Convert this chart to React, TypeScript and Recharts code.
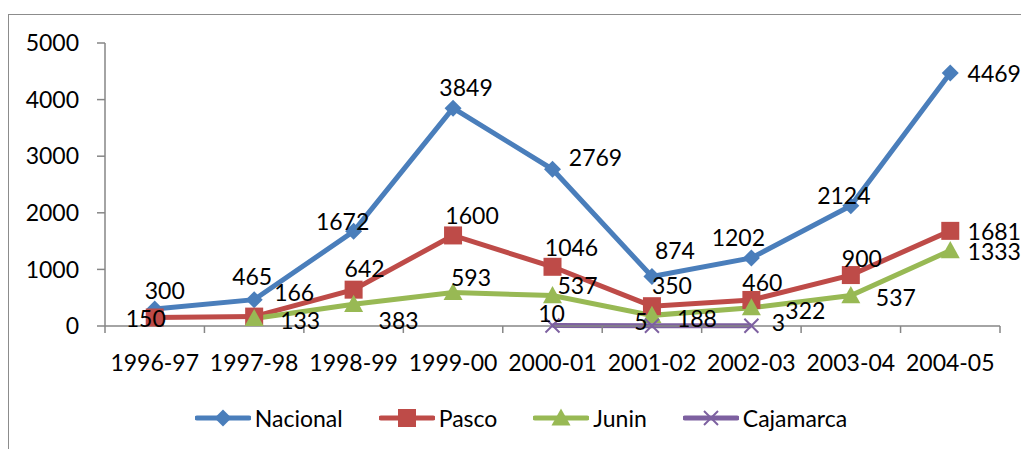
import React from 'react';
import { LineChart, Line, XAxis, YAxis, Legend } from 'recharts';

const categories = ['1996-97', '1997-98', '1998-99', '1999-00', '2000-01', '2001-02', '2002-03', '2003-04', '2004-05'];
const nacional = [300, 465, 1672, 3849, 2769, 874, 1202, 2124, 4469];
const pasco = [150, 166, 642, 1600, 1046, 350, 460, 900, 1681];
const junin = [null, 133, 383, 593, 537, 188, 322, 537, 1333];
const cajamarca = [null, null, null, null, 10, 5, 3, null, null];
const yTicks = [0, 1000, 2000, 3000, 4000, 5000];

// label offsets (dx, dy) for each point, as placed in the original
const nacionalLabelPos = [[10, -19], [-2, -24], [-11, -10], [13, -21], [43, -12], [23, -27], [-13, -21], [-7, -11], [44, 0]];
const pascoLabelPos = [[-9, 0], [40, -25], [11, -22], [19, -20], [19, -20], [20, -21], [11, -18], [11, -17], [44, 0]];
const juninLabelPos = [[0, 0], [46, 2], [45, 16], [18, -15], [25, -11], [45, 3], [54, 2], [45, 1], [44, 0]];
const cajamarcaLabelPos = [[0, 0], [0, 0], [0, 0], [0, 0], [-1, -12], [-11, -5], [27, -4], [0, 0], [0, 0]];

const data = categories.map((name, i) => ({
  name,
  Nacional: nacional[i],
  Pasco: pasco[i],
  Junin: junin[i],
  Cajamarca: cajamarca[i],
}));

const FONT = 'Lato, "Open Sans", sans-serif';
const AXIS = '#868686';
const CHART_W = 1018;
const CHART_H = 438;
const MARGIN = { top: 28, right: 27, left: 0, bottom: 20 };
const Y_W = 96;
const BAND = (CHART_W - MARGIN.left - MARGIN.right - Y_W) / categories.length;
const LINE_W = 5;

const COLORS = {
  Nacional: '#4A7EBB',
  Pasco: '#BE4B48',
  Junin: '#98B954',
  Cajamarca: '#7D60A0',
};

type Shape = 'diamond' | 'square' | 'triangle' | 'x';

const Marker = ({ cx, cy, shape, color }: { cx: number; cy: number; shape: Shape; color: string }) => {
  if (shape === 'diamond') {
    const r = 8.5;
    return <polygon points={`${cx},${cy - r} ${cx + r},${cy} ${cx},${cy + r} ${cx - r},${cy}`} fill={color} />;
  }
  if (shape === 'square') {
    const r = 9;
    return <rect x={cx - r} y={cy - r} width={r * 2} height={r * 2} fill={color} />;
  }
  if (shape === 'triangle') {
    const r = 9.5;
    return <polygon points={`${cx},${cy - r} ${cx + r},${cy + r * 0.8} ${cx - r},${cy + r * 0.8}`} fill={color} />;
  }
  const r = 7;
  return (
    <g stroke={color} strokeWidth={2}>
      <line x1={cx - r} y1={cy - r} x2={cx + r} y2={cy + r} />
      <line x1={cx - r} y1={cy + r} x2={cx + r} y2={cy - r} />
    </g>
  );
};

const makeDot = (shape: Shape, color: string) => (props: any) => {
  const { cx, cy, index, value } = props;
  if (value == null || cx == null || cy == null) return <g key={`d-${shape}-${index}`} />;
  return <Marker key={`d-${shape}-${index}`} cx={cx} cy={cy} shape={shape} color={color} />;
};

const makeLabel = (pos: number[][]) => (props: any) => {
  const { x, y, value, index } = props;
  if (value == null || x == null || y == null) return null;
  const [dx, dy] = pos[index] || [0, 0];
  return (
    <text
      key={`l-${index}-${value}`}
      x={x + dx}
      y={y + dy}
      textAnchor="middle"
      dominantBaseline="central"
      fontFamily={FONT}
      fontSize={23}
      fill="#000"
    >
      {value}
    </text>
  );
};

const XTick = (props: any) => {
  const { x, y, payload, index } = props;
  const left = x - BAND / 2;
  const right = x + BAND / 2;
  return (
    <g>
      <line x1={left} y1={y} x2={left} y2={y + 7} stroke={AXIS} strokeWidth={1.5} />
      {index === categories.length - 1 && (
        <line x1={right} y1={y} x2={right} y2={y + 7} stroke={AXIS} strokeWidth={1.5} />
      )}
      <text x={x} y={y + 36} textAnchor="middle" dominantBaseline="central" fontFamily={FONT} fontSize={23} fill="#000">
        {payload.value}
      </text>
    </g>
  );
};

const legendItems: { key: keyof typeof COLORS; shape: Shape }[] = [
  { key: 'Nacional', shape: 'diamond' },
  { key: 'Pasco', shape: 'square' },
  { key: 'Junin', shape: 'triangle' },
  { key: 'Cajamarca', shape: 'x' },
];

const LegendContent = () => (
  <div style={{ display: 'flex', justifyContent: 'center', alignItems: 'center', height: 30, gap: 36, paddingLeft: 33 }}>
    {legendItems.map((item) => (
      <div key={item.key} style={{ display: 'flex', alignItems: 'center' }}>
        <svg width={56} height={24}>
          <line x1={2} y1={12} x2={54} y2={12} stroke={COLORS[item.key]} strokeWidth={LINE_W} strokeLinecap="round" />
          <Marker cx={28} cy={12} shape={item.shape} color={COLORS[item.key]} />
        </svg>
        <span style={{ fontFamily: FONT, fontSize: 23, color: '#000', marginLeft: 4 }}>{item.key}</span>
      </div>
    ))}
  </div>
);

export default function App() {
  return (
    <div style={{ paddingTop: 6 }}>
      <div style={{ width: CHART_W, height: 440, border: '1.5px solid #8c8c8c', background: '#fff' }}>
        <LineChart width={CHART_W} height={CHART_H} data={data} margin={MARGIN}>
          <XAxis
            dataKey="name"
            height={77}
            stroke={AXIS}
            strokeWidth={1.5}
            tickLine={false}
            tickSize={0}
            tickMargin={0}
            tick={<XTick />}
            interval={0}
            padding={{ left: BAND / 2, right: BAND / 2 }}
          />
          <YAxis
            width={Y_W}
            domain={[0, 5000]}
            ticks={yTicks}
            stroke={AXIS}
            strokeWidth={1.5}
            tickSize={8}
            tickMargin={18}
            tick={{ fontFamily: FONT, fontSize: 23, fill: '#000' }}
            interval={0}
          />
          <Legend verticalAlign="bottom" content={<LegendContent />} />
          <Line
            dataKey="Nacional"
            stroke={COLORS.Nacional}
            strokeWidth={LINE_W}
            dot={makeDot('diamond', COLORS.Nacional)}
            activeDot={false}
            label={makeLabel(nacionalLabelPos)}
            isAnimationActive={false}
          />
          <Line
            dataKey="Pasco"
            stroke={COLORS.Pasco}
            strokeWidth={LINE_W}
            dot={makeDot('square', COLORS.Pasco)}
            activeDot={false}
            label={makeLabel(pascoLabelPos)}
            isAnimationActive={false}
          />
          <Line
            dataKey="Junin"
            stroke={COLORS.Junin}
            strokeWidth={LINE_W}
            dot={makeDot('triangle', COLORS.Junin)}
            activeDot={false}
            label={makeLabel(juninLabelPos)}
            isAnimationActive={false}
          />
          <Line
            dataKey="Cajamarca"
            stroke={COLORS.Cajamarca}
            strokeWidth={LINE_W}
            dot={makeDot('x', COLORS.Cajamarca)}
            activeDot={false}
            label={makeLabel(cajamarcaLabelPos)}
            isAnimationActive={false}
          />
        </LineChart>
      </div>
    </div>
  );
}
